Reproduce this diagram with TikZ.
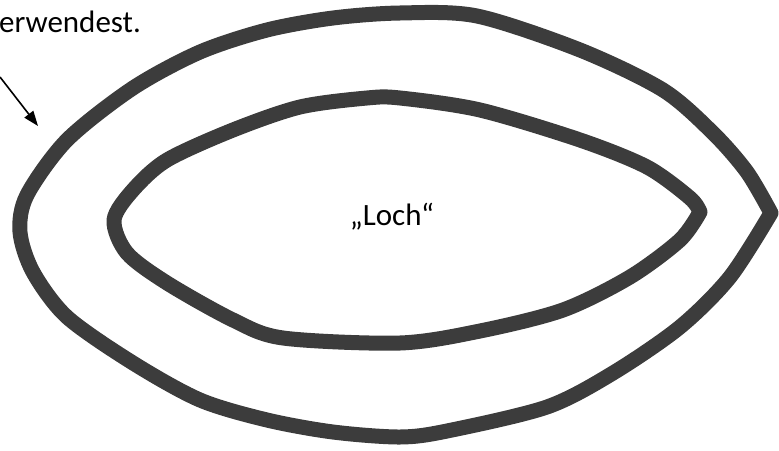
\documentclass[tikz,border=0pt]{standalone}
\usepackage{fontspec}
\setmainfont{Carlito}
\usepackage{tikz}
\usetikzlibrary{arrows.meta}
\definecolor{MarkerGray}{HTML}{3c3c3c}
\tikzset{
  marker/.style={line width=15pt, MarkerGray, line join=round, line cap=round},
  label/.style={inner sep=0pt, font=\fontsize{31}{36}\selectfont}
}

\begin{document}
\begin{tikzpicture}[x=1pt, y=-1pt]
  \useasboundingbox (0,0) rectangle (779,450);
  % outer ring
  \draw[marker] plot[smooth] coordinates {(771,213) (747,172) (713,133) (663,90) (580,50) (477,16) (400,13) (333,18) (267,30) (200,52) (133,88) (67,140) (27,195) (20,232) (33,272) (67,317) (133,363) (200,400) (267,420) (333,432) (400,437) (447,431) (547,407) (613,373) (680,327) (730,277) (771,213)};
  % inner ring
  \draw[marker] plot[smooth] coordinates {(700,212) (690,198) (647,167) (580,140) (480,110) (400,98) (367,98) (300,107) (233,130) (167,160) (133,190) (114,220) (127,253) (167,283) (233,320) (283,338) (400,343) (480,331) (563,310) (630,277) (680,240) (700,212)};
  \node[label, anchor=base west] (hint) at (-1,32) {erwendest.};
  \node[label, anchor=base] (hole) at (392,225) {„Loch“};
  \coordinate (arrowstart) at (0,77);
  \coordinate (arrowtip) at (38,126);
  \draw[line width=1.6pt, -{Triangle[length=15pt,width=11pt]}] (arrowstart) -- (arrowtip);
\end{tikzpicture}
\end{document}
